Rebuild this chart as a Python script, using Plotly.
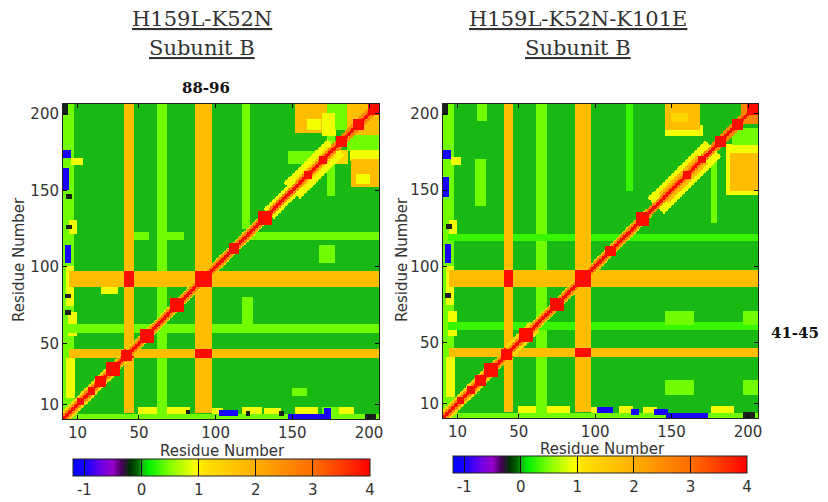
import numpy as np
import plotly.graph_objects as go

W, H = 828, 502
N_RES = 206
residues = list(range(1, N_RES + 1))

# value levels
BG, LIME, FAINT, YEL, YO, ORG, DORG, RED = 0.02, 0.45, 0.28, 0.9, 1.3, 1.75, 2.6, 3.9
BLUE, DARK = -1.0, -0.25

cmin, cmax = -1.2, 4.0
cbar_ticks = [-1, 0, 1, 2, 3, 4]
cbar_text = ["-1", "0", "1", "2", "3", "4"]
axis_ticks = [10, 50, 100, 150, 200]
cs_vals = [-1.2, -0.95, -0.7, -0.5, -0.35, -0.2, -0.05, 0.02, 0.12, 0.5, 0.95, 1.1, 2.0, 2.5, 3.0, 3.5, 4.0]
cs_cols = ["rgb(0,0,255)", "rgb(30,0,255)", "rgb(110,0,230)", "rgb(150,0,200)", "rgb(70,0,90)",
           "rgb(0,50,0)", "rgb(0,110,0)", "rgb(25,185,20)", "rgb(0,240,0)", "rgb(130,255,0)",
           "rgb(255,255,0)", "rgb(255,225,0)", "rgb(255,175,0)", "rgb(255,140,0)", "rgb(255,110,0)",
           "rgb(255,60,0)", "rgb(255,0,0)"]

# orange bands (residues 41-45 and 88-96 regions)
band_lo = [41, 87]
band_hi = [46, 97]

# ---------- H159L-K52N : rectangular regions (x0, x1, y0, y1, value) ----------
A_patches = [
    (1, 7, 1, 206, LIME), (3, 8, 15, 40, YEL), (4, 9, 55, 70, YEL), (3, 7, 75, 100, YEL),
    (5, 9, 122, 130, YEL), (6, 13, 167, 171, YEL), (1, 5, 172, 176, BLUE), (1, 4, 151, 164, BLUE),
    (2, 5, 103, 114, BLUE), (3, 6, 125, 127, DARK), (3, 6, 145, 147, DARK), (2, 5, 80, 82, DARK),
    (2, 5, 69, 71, DARK), (1, 3, 200, 206, DARK),
    (1, 206, 1, 3, LIME), (50, 62, 4, 8, YEL), (68, 83, 4, 8, YEL), (98, 104, 4, 7, YEL),
    (118, 130, 4, 8, YEL), (132, 142, 4, 7, YEL), (152, 166, 4, 8, YEL), (180, 190, 4, 8, YEL),
    (170, 180, 4, 8, LIME), (103, 114, 3, 6, BLUE), (148, 170, 1, 3, BLUE), (171, 175, 1, 7, BLUE),
    (65, 67, 4, 6, DARK), (81, 83, 4, 6, DARK), (120, 122, 3, 5, DARK), (142, 144, 3, 5, DARK),
    (198, 204, 1, 3, DARK),
    (62, 68, 4, 206, LIME), (118, 122, 125, 206, LIME), (173, 177, 147, 206, LIME),
    (118, 124, 62, 80, LIME), (4, 206, 57, 62, LIME), (120, 206, 118, 122, LIME),
    (47, 56, 118, 122, LIME), (69, 79, 118, 122, LIME), (168, 177, 103, 114, LIME),
    (26, 36, 83, 86, YEL), (150, 159, 16, 20, LIME),
    (152, 172, 188, 206, ORG), (160, 168, 190, 196, YEL), (170, 178, 186, 200, YEL),
    (178, 186, 190, 206, LIME), (186, 206, 186, 206, ORG), (186, 206, 176, 186, LIME),
    (188, 206, 170, 176, YEL), (189, 206, 153, 170, ORG), (192, 200, 155, 160, YEL),
    (148, 165, 168, 175, LIME), (165, 186, 168, 176, YO),
]
# diagonal halo segments: start, end, half-width, value
A_halo = [(1, 32, 5, YO), (32, 135, 4, YO), (135, 150, 6, YEL), (150, 178, 10, YEL),
          (155, 176, 5, YO), (178, 206, 4, DORG)]
A_blob_c = [12, 19, 25, 33, 42, 55, 75, 92, 112, 132, 160, 170, 182, 193, 203]
A_blob_h = [2, 2, 3, 4, 3, 4, 4, 5, 3, 4, 2, 2, 3, 3, 3]

# ---------- H159L-K52N-K101E ----------
B_patches = [
    (1, 7, 1, 206, LIME), (3, 8, 15, 40, YEL), (4, 9, 55, 70, YEL), (3, 7, 75, 100, YEL),
    (5, 9, 122, 130, YEL), (6, 12, 167, 171, YEL), (1, 5, 171, 176, BLUE), (1, 4, 146, 158, BLUE),
    (2, 5, 103, 114, BLUE), (3, 6, 125, 127, DARK), (2, 5, 80, 82, DARK), (1, 3, 200, 206, DARK),
    (1, 206, 1, 3, LIME), (50, 62, 4, 8, YEL), (68, 83, 4, 8, YEL), (98, 104, 4, 7, YEL),
    (116, 124, 4, 8, YEL), (132, 140, 4, 7, YEL), (176, 190, 4, 8, YEL),
    (102, 111, 4, 7, BLUE), (124, 128, 3, 6, BLUE), (139, 147, 3, 6, BLUE), (147, 173, 1, 3, BLUE),
    (197, 204, 1, 4, DARK), (65, 67, 4, 6, DARK),
    (62, 68, 4, 206, LIME), (22, 28, 140, 170, LIME), (23, 29, 196, 206, LIME),
    (121, 124, 150, 206, FAINT), (176, 179, 129, 170, LIME),
    (4, 206, 59, 63, FAINT), (4, 206, 117, 121, FAINT),
    (146, 164, 62, 70, LIME), (197, 206, 62, 70, LIME), (146, 164, 16, 25, LIME), (197, 206, 16, 25, LIME),
    (146, 170, 186, 192, YEL), (146, 168, 190, 206, ORG), (150, 160, 195, 200, YO),
    (186, 206, 176, 180, YEL), (186, 206, 147, 176, YEL), (189, 206, 150, 174, ORG),
    (190, 206, 180, 190, LIME), (196, 206, 194, 206, DORG),
]
B_halo = [(1, 32, 5, YO), (32, 135, 4, YO), (45, 60, 6, YO), (140, 177, 10, YEL),
          (145, 170, 6, ORG), (178, 206, 4, DORG)]
B_blob_c = [12, 19, 25, 32, 42, 55, 75, 92, 110, 131, 160, 170, 182, 193, 203]
B_blob_h = [2, 2, 3, 4, 3, 4, 4, 5, 3, 4, 2, 2, 3, 3, 3]


def build(patches, halo, blob_c, blob_h):
    r = np.array(residues)
    X, Y = np.meshgrid(r, r)
    z = np.full((N_RES, N_RES), BG, dtype=float)
    for x0, x1, y0, y1, v in patches:
        z[(X >= x0) & (X <= x1) & (Y >= y0) & (Y <= y1)] = v
    for lo, hi in zip(band_lo, band_hi):
        z[(X >= lo) & (X <= hi) & (Y >= 5)] = ORG
        z[(Y >= lo) & (Y <= hi) & (X >= 5)] = ORG
    for lo, hi in zip(band_lo, band_hi):
        for lo2, hi2 in zip(band_lo, band_hi):
            z[(X >= lo) & (X <= hi) & (Y >= lo2) & (Y <= hi2)] = RED
    mid = (X + Y) / 2.0
    d = np.abs(X - Y)
    for s, e, w, v in halo:
        z[(mid >= s) & (mid <= e) & (d <= w)] = v
    z[d <= 3] = DORG
    z[d <= 1] = RED
    for c, h in zip(blob_c, blob_h):
        z[(np.abs(X - c) <= h) & (np.abs(Y - c) <= h)] = RED
    return z


zA = build(A_patches, A_halo, A_blob_c, A_blob_h)
zB = build(B_patches, B_halo, B_blob_c, B_blob_h)

colorscale = [[(v - cmin) / (cmax - cmin), c] for v, c in zip(cs_vals, cs_cols)]

fig = go.Figure()
fig.add_trace(go.Heatmap(z=zA, x=residues, y=residues, coloraxis="coloraxis", hoverinfo="skip"))
fig.add_trace(go.Heatmap(z=zB, x=residues, y=residues, coloraxis="coloraxis2",
                         xaxis="x2", yaxis="y2", hoverinfo="skip"))


def px(x):
    return x / W


def py(y):
    return 1 - y / H


tick_font = dict(family="DejaVu Sans", size=15, color="#333")
ax_common = dict(range=[0.5, 206.5], tickvals=axis_ticks, ticks="inside", ticklen=4,
                 tickcolor="black", showline=True, linecolor="#222", linewidth=1, mirror="ticks",
                 showgrid=False, zeroline=False, tickfont=tick_font)

cbar_common = dict(orientation="h", thickness=17, thicknessmode="pixels", lenmode="fraction",
                   xanchor="center", yanchor="top", xpad=0, ypad=0, outlinewidth=1, outlinecolor="#222",
                   tickvals=cbar_ticks, ticktext=cbar_text, ticks="inside", ticklen=17,
                   tickcolor="#111", tickwidth=1, tickfont=tick_font)

fig.update_layout(
    width=W, height=H, margin=dict(l=0, r=0, t=0, b=0, autoexpand=False),
    paper_bgcolor="white", plot_bgcolor="white", showlegend=False,
    xaxis=dict(domain=[px(63), px(379)], anchor="y", **ax_common),
    yaxis=dict(domain=[py(419), py(104)], anchor="x", **ax_common),
    xaxis2=dict(domain=[px(443), px(758)], anchor="y2", **ax_common),
    yaxis2=dict(domain=[py(418), py(104)], anchor="x2", **ax_common),
    coloraxis=dict(cmin=cmin, cmax=cmax, colorscale=colorscale,
                   colorbar=dict(x=px(221.5), len=297 / W, y=py(459), **cbar_common)),
    coloraxis2=dict(cmin=cmin, cmax=cmax, colorscale=colorscale,
                    colorbar=dict(x=px(600), len=294 / W, y=py(456), **cbar_common)),
)

serif = dict(family="DejaVu Serif", size=21, color="#333")
bold_serif = dict(family="DejaVu Serif", size=15, color="#111")
label_font = dict(family="DejaVu Sans", size=15, color="#333")


def ann(text, x, y, font, angle=0):
    fig.add_annotation(text=text, x=px(x), y=py(y), xref="paper", yref="paper", showarrow=False,
                       xanchor="center", yanchor="middle", font=font, textangle=angle)


ann("<u>H159L-K52N</u>", 202, 19, serif)
ann("<u>Subunit B</u>", 202, 48, serif)
ann("<u>H159L-K52N-K101E</u>", 578, 19, serif)
ann("<u>Subunit B</u>", 578, 48, serif)
ann("<b>88-96</b>", 206, 88, bold_serif)
ann("<b>41-45</b>", 795, 333, bold_serif)
ann("Residue Number", 222, 451, label_font)
ann("Residue Number", 602, 449, label_font)
ann("Residue Number", 19, 260, label_font, -90)
ann("Residue Number", 402, 260, label_font, -90)

page_js = ("document.documentElement.style.margin='0';document.body.style.margin='0';"
           "document.documentElement.style.overflow='hidden';document.body.style.overflow='hidden';")
fig.write_html("out.html", post_script=page_js, config={"displayModeBar": False})
